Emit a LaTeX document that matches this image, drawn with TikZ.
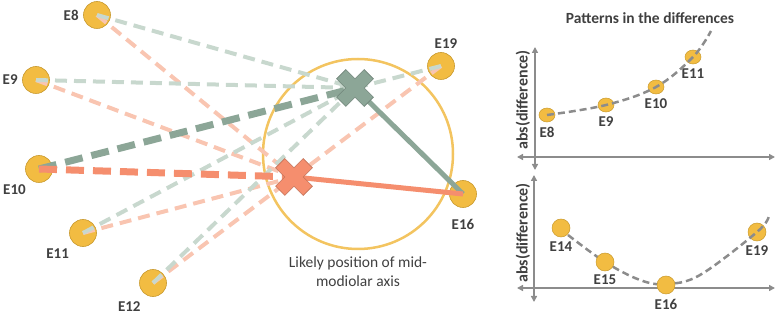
\documentclass[tikz,border=0pt]{standalone}
\usepackage{fontspec}
\setmainfont{Carlito}
\usepackage{xcolor}
\usetikzlibrary{arrows.meta,positioning,shapes.geometric}
\definecolor{goldf}{HTML}{F2BC42}
\definecolor{goldd}{HTML}{C99A2E}
\definecolor{ring}{HTML}{F3C460}
\definecolor{sage}{HTML}{8CA697}
\definecolor{sagel}{HTML}{C8D8CE}
\definecolor{coral}{HTML}{F58E6E}
\definecolor{corall}{HTML}{F9C5B1}
\definecolor{axgray}{HTML}{8C8C8C}
\definecolor{txt}{HTML}{404040}
\newcommand{\xshape}[2]{%
  \filldraw[fill=#2,draw=#2!80!black,line width=0.6pt,shift={(#1)},rotate=45]
    (19.5,-6.5)--(19.5,6.5)--(6.5,6.5)--(6.5,19.5)--(-6.5,19.5)--(-6.5,6.5)--(-19.5,6.5)
    --(-19.5,-6.5)--(-6.5,-6.5)--(-6.5,-19.5)--(6.5,-19.5)--(6.5,-6.5)--cycle;}

\begin{document}
\begin{tikzpicture}[x=1pt,y=-1pt,font=\fontsize{15}{17}\selectfont\bfseries,text=txt,
  el/.style={circle,fill=goldf,draw=goldd,line width=0.6pt,minimum size=27pt,inner sep=0pt},
  lab/.style={text=txt,label distance=1pt},
  pt/.style={ellipse,fill=goldf,draw=goldd,line width=0.5pt,minimum width=16pt,minimum height=14pt,inner sep=0pt},
  pb/.style={circle,fill=goldf,draw=goldd,line width=0.5pt,minimum size=18pt,inner sep=0pt},
  small/.style={font=\fontsize{13.5}{15}\selectfont\bfseries},
  weakg/.style={sagel,line width=4pt,dash pattern=on 12pt off 7pt},
  weako/.style={corall,line width=4pt,dash pattern=on 12pt off 7pt},
  strongg/.style={sage,line width=7pt,dash pattern=on 18pt off 9pt},
  strongo/.style={coral,line width=7pt,dash pattern=on 18pt off 9pt},
  ax/.style={axgray,line width=1.8pt,{Triangle[length=6pt,width=6pt]}-{Triangle[length=6pt,width=6pt]}},
  trend/.style={axgray,line width=2.5pt,dash pattern=on 7pt off 4pt}]
\useasboundingbox (0,0) rectangle (777,315);

% electrodes
\node[el,label={[lab]left:E8}] (e8) at (97,15) {};
\node[el,label={[lab]left:E9}] (e9) at (36,80) {};
\node[el,label={[lab,label distance=2pt]232:E10}] (e10) at (39,169) {};
\node[el,label={[lab,label distance=2pt]228:E11}] (e11) at (83,233) {};
\node[el,label={[lab,label distance=4pt]240:E12}] (e12) at (153,283) {};
\node[el,label={[lab,xshift=5pt,label distance=0pt]above:E19}] (e19) at (441,66) {};
\node[el,label={[lab,label distance=8pt]below:E16}] (e16) at (463,194) {};

% axis estimate
\node[circle,draw=ring,line width=2.5pt,minimum size=190pt,inner sep=0pt] (zone) at (358,154) {};
\node[font=\fontsize{15.5}{19}\selectfont,align=center,text=txt] (zonetxt) at (358,272) {Likely position of mid-\\modiolar axis};
\coordinate (gx) at (355,88);
\coordinate (ox) at (294,177);

\foreach \e in {8,9,11,12,19}{
  \draw[weako] (e\e.center) -- (ox);
  \draw[weakg] (e\e.center) -- (gx);}
\draw[strongg] (e10.center) -- (gx);
\draw[strongo] (e10.center) -- (ox);
\draw[sage,line width=5pt] (e16.center) -- (gx);
\draw[coral,line width=5pt] (e16.center) -- (ox);
\xshape{gx}{sage}
\xshape{ox}{coral}

% pattern panels
\node[font=\fontsize{15.5}{18}\selectfont\bfseries] (title) at (650,18) {Patterns in the differences};
\coordinate (t0) at (517,157); \coordinate (t1) at (775,157);
\coordinate (t2) at (535,47); \coordinate (t3) at (535,170);
\draw[ax] (t0) -- (t1);
\draw[ax] (t3) -- (t2);
\node[font=\fontsize{16}{18}\selectfont\bfseries,rotate=90] (ylabt) at (523,100) {abs(difference)};
\node[pt,small,label={[lab]below:E8}] (a8) at (547,115) {};
\node[pt,small,label={[lab]below:E9}] (a9) at (606,105) {};
\node[pt,small,label={[lab]below:E10}] (a10) at (656,87) {};
\node[pt,small,label={[lab]below:E11}] (a11) at (693,57) {};
\coordinate (aend) at (711,31);
\draw[trend] plot[smooth,tension=0.6] coordinates {(a8) (a9) (a10) (a11) (aend)};

\coordinate (b0) at (517,288); \coordinate (b1) at (775,288);
\coordinate (b2) at (534,175); \coordinate (b3) at (534,302);
\draw[ax] (b0) -- (b1);
\draw[ax] (b3) -- (b2);
\node[font=\fontsize{16}{18}\selectfont\bfseries,rotate=90] (ylabb) at (523,233) {abs(difference)};
\node[pb,small,label={[lab]below:E19}] (b19) at (757,232) {};
\coordinate (bstart) at (568,235);
\coordinate (bend) at (769,216);
\draw[trend] plot[smooth,tension=0.6] coordinates {(bstart) (605,262) (640,280) (666,284) (700,275) (b19) (bend)};
\node[pb,small,label={[lab]below:E14}] (b14) at (561,228) {};
\node[pb,small,label={[lab,label distance=0pt]below:E15}] (b15) at (605,262) {};
\node[pb,small,label={[lab]below:E16}] (b16) at (666,285) {};
\end{tikzpicture}
\end{document}
